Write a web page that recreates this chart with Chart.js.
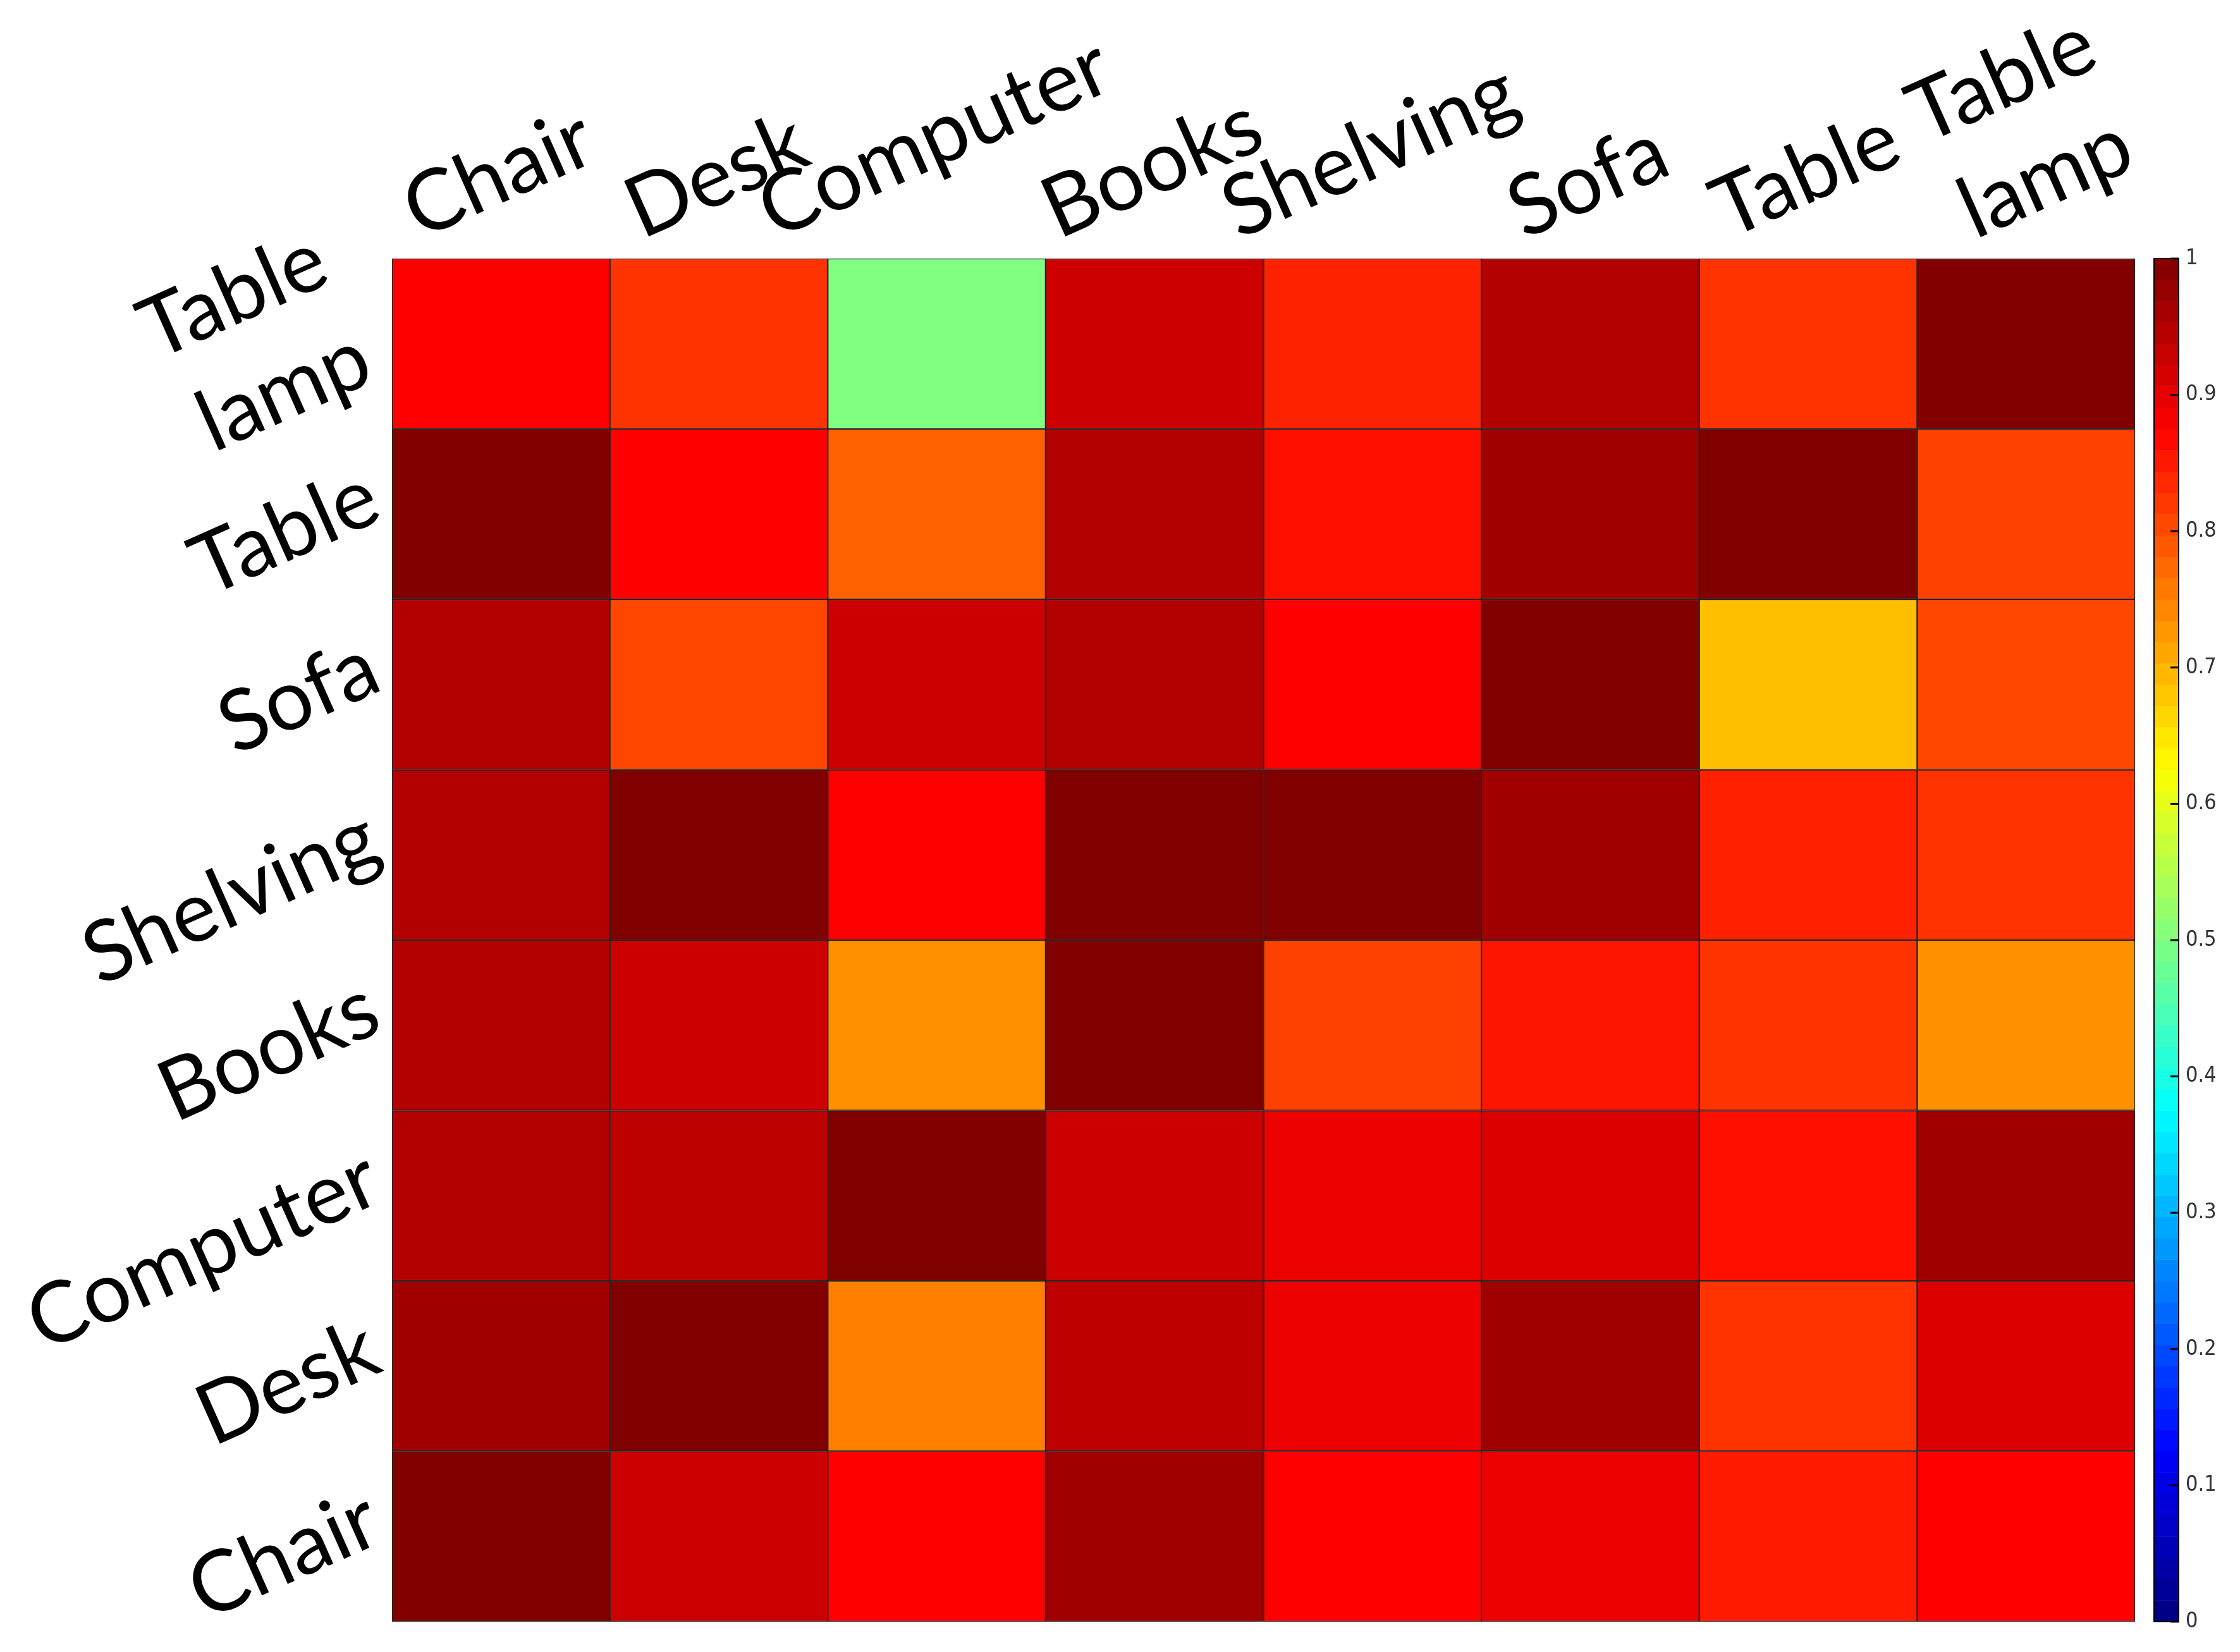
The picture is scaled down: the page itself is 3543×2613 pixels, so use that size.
<!DOCTYPE html>
<html>
<head>
<meta charset="utf-8">
<title>Heatmap</title>
<script src="https://cdn.jsdelivr.net/npm/chart.js@4.4.0/dist/chart.umd.min.js"></script>
<style>
    html, body { margin: 0; padding: 0; background: #fff; }
    .chart-container { position: relative; width: 3543px; height: 2613px; }
</style>
</head>
<body>
<div class="chart-container">
    <canvas id="heatChart"></canvas>
</div>
<script>
// column categories (left to right) and row categories (top to bottom)
const colLabels = ['Chair', 'Desk', 'Computer', 'Books', 'Shelving', 'Sofa', 'Table', ['Table', 'lamp']];
const rowLabels = [['Table', 'lamp'], 'Table', 'Sofa', 'Shelving', 'Books', 'Computer', 'Desk', 'Chair'];

// cell values per row (jet colormap 0..1)
const rowTableLamp = [0.875, 0.825, 0.50, 0.925, 0.842, 0.95, 0.825, 1.0];
const rowTable = [1.0, 0.875, 0.781, 0.95, 0.86, 0.968, 1.0, 0.8125];
const rowSofa = [0.95, 0.805, 0.925, 0.95, 0.875, 1.0, 0.6875, 0.805];
const rowShelving = [0.95, 1.0, 0.875, 1.0, 1.0, 0.968, 0.844, 0.825];
const rowBooks = [0.95, 0.925, 0.734, 1.0, 0.8125, 0.855, 0.825, 0.734];
const rowComputer = [0.95, 0.94, 1.0, 0.925, 0.893, 0.908, 0.86, 0.968];
const rowDesk = [0.968, 1.0, 0.75, 0.9375, 0.893, 0.968, 0.825, 0.908];
const rowChair = [1.0, 0.925, 0.875, 0.968, 0.875, 0.893, 0.85, 0.875];

const rows = [rowTableLamp, rowTable, rowSofa, rowShelving, rowBooks, rowComputer, rowDesk, rowChair];

// colorbar ticks
const cbTicks = [0, 0.1, 0.2, 0.3, 0.4, 0.5, 0.6, 0.7, 0.8, 0.9, 1];
const cbTickLabels = ['0', '0.1', '0.2', '0.3', '0.4', '0.5', '0.6', '0.7', '0.8', '0.9', '1'];

const LABEL_FONT = 'Lato, "Open Sans", sans-serif';
const LABEL_SIZE = 134;
const LABEL_ANGLE = 24;

function jet(v) {
    const clamp = (x) => Math.max(0, Math.min(1, x));
    const r = clamp(1.5 - Math.abs(4 * v - 3));
    const g = clamp(1.5 - Math.abs(4 * v - 2));
    const b = clamp(1.5 - Math.abs(4 * v - 1));
    return `rgb(${Math.round(r * 255)}, ${Math.round(g * 255)}, ${Math.round(b * 255)})`;
}

// rotated column labels above the plot, centred on each category
const topLabelsPlugin = {
    id: 'topLabels',
    afterDraw(chart, args, opts) {
        const { ctx } = chart;
        const xs = chart.scales.x;
        const ang = opts.angle * Math.PI / 180;
        const lh = opts.size * opts.lineHeight;
        ctx.save();
        ctx.font = `${opts.size}px ${opts.family}`;
        ctx.fillStyle = opts.color;
        ctx.textAlign = 'center';
        ctx.textBaseline = 'alphabetic';
        xs.getLabels().forEach((label, i) => {
            const lines = [].concat(label);
            const n = lines.length;
            const wLast = ctx.measureText(lines[n - 1]).width;
            const ox = xs.getPixelForValue(i) + opts.shiftX + (n - 1) * lh / 2 * Math.sin(ang);
            const oy = chart.chartArea.top - opts.gap - wLast / 2 * Math.sin(ang);
            ctx.save();
            ctx.translate(ox, oy);
            ctx.rotate(-ang);
            lines.forEach((line, k) => ctx.fillText(line, 0, -(n - 1 - k) * lh));
            ctx.restore();
        });
        ctx.restore();
    }
};

// rotated row labels left of the plot, right-aligned against each row
const leftLabelsPlugin = {
    id: 'leftLabels',
    afterDraw(chart, args, opts) {
        const { ctx } = chart;
        const ys = chart.scales.y;
        const ang = opts.angle * Math.PI / 180;
        const lh = opts.size * opts.lineHeight;
        ctx.save();
        ctx.font = `${opts.size}px ${opts.family}`;
        ctx.fillStyle = opts.color;
        ctx.textAlign = 'right';
        ctx.textBaseline = 'middle';
        ys.ticks.forEach((tick) => {
            const lines = [].concat(tick.label);
            const n = lines.length;
            ctx.save();
            ctx.translate(chart.chartArea.left - opts.padding, ys.getPixelForValue(tick.value));
            ctx.rotate(-ang);
            lines.forEach((line, k) => {
                const u = -(n - 1) * opts.multiBack;
                const v = opts.shift + (k - (n - 1) / 2) * lh - (n - 1) * opts.multiShift;
                ctx.fillText(line, u, v);
            });
            ctx.restore();
        });
        ctx.restore();
    }
};

// colorbar drawn against its own linear axis
const colorbarPlugin = {
    id: 'colorbar',
    afterDraw(chart, args, opts) {
        const { ctx } = chart;
        const cb = chart.scales.cb;
        const x0 = cb.left + opts.offset;
        const x1 = x0 + opts.width;
        const steps = 64;
        ctx.save();
        for (let i = 0; i < steps; i++) {
            const yTop = cb.getPixelForValue((i + 1) / steps);
            const yBot = cb.getPixelForValue(i / steps);
            ctx.fillStyle = jet((i + 0.5) / steps);
            ctx.fillRect(x0, yTop, x1 - x0, yBot - yTop + 0.5);
        }
        ctx.strokeStyle = '#000';
        ctx.lineWidth = 2;
        ctx.strokeRect(x0, cb.getPixelForValue(1), x1 - x0, cb.getPixelForValue(0) - cb.getPixelForValue(1));
        ctx.lineWidth = 3;
        cb.ticks.forEach(t => {
            const y = cb.getPixelForValue(t.value);
            ctx.beginPath();
            ctx.moveTo(x1 - opts.tickLength, y);
            ctx.lineTo(x1, y);
            ctx.stroke();
        });
        ctx.restore();
    }
};

function buildDatasets() {
    return rows.map((values, r) => ({
        label: [].concat(rowLabels[r]).join(' '),
        data: values.map(() => [r - 0.5, r + 0.5]),
        backgroundColor: values.map(v => jet(v)),
        borderColor: 'rgba(0, 0, 0, 0.85)',
        borderWidth: 1.5,
        borderSkipped: false,
        barPercentage: 1,
        categoryPercentage: 1,
        grouped: false
    }));
}

const ctx = document.getElementById('heatChart');

new Chart(ctx, {
    type: 'bar',
    data: {
        labels: colLabels,
        datasets: buildDatasets()
    },
    options: {
        responsive: true,
        maintainAspectRatio: false,
        devicePixelRatio: 1,
        animation: false,
        events: [],
        layout: { padding: { left: 0, top: 0, right: 0, bottom: 48 } },
        plugins: {
            legend: { display: false },
            tooltip: { enabled: false },
            topLabels: { angle: LABEL_ANGLE, size: LABEL_SIZE, lineHeight: 1.27, family: LABEL_FONT, color: '#000', gap: 30, shiftX: 14 },
            leftLabels: { angle: LABEL_ANGLE, size: LABEL_SIZE, lineHeight: 1.27, family: LABEL_FONT, color: '#000', padding: 14, shift: -36, multiShift: 44, multiBack: 32 },
            colorbar: { offset: 30, width: 39, tickLength: 13 }
        },
        scales: {
            x: {
                type: 'category',
                position: 'top',
                grid: { display: false, drawTicks: false },
                border: { display: false },
                ticks: { display: false },
                afterFit: (scale) => { scale.height = 409; }
            },
            y: {
                type: 'linear',
                position: 'left',
                reverse: true,
                min: -0.5,
                max: 7.5,
                grid: { display: false, drawTicks: false },
                border: { display: false },
                afterBuildTicks: (scale) => {
                    scale.ticks = rowLabels.map((_, i) => ({ value: i }));
                },
                ticks: {
                    display: false,
                    autoSkip: false,
                    callback: (value) => rowLabels[value]
                },
                afterFit: (scale) => {
                    scale.width = 620;
                    scale.paddingTop = 0;
                    scale.paddingBottom = 0;
                }
            },
            cb: {
                type: 'linear',
                position: 'right',
                min: 0,
                max: 1,
                grid: { display: false, drawTicks: false },
                border: { display: false },
                afterBuildTicks: (scale) => {
                    scale.ticks = cbTicks.map(v => ({ value: v }));
                },
                ticks: {
                    autoSkip: false,
                    callback: (value) => cbTickLabels[cbTicks.indexOf(value)],
                    padding: 80,
                    color: '#333',
                    font: { family: '"Liberation Sans Narrow", "DejaVu Sans Condensed", sans-serif', size: 34 }
                },
                afterFit: (scale) => {
                    scale.width = 166;
                    scale.paddingTop = 0;
                    scale.paddingBottom = 0;
                }
            }
        }
    },
    plugins: [topLabelsPlugin, leftLabelsPlugin, colorbarPlugin]
});
</script>
</body>
</html>
